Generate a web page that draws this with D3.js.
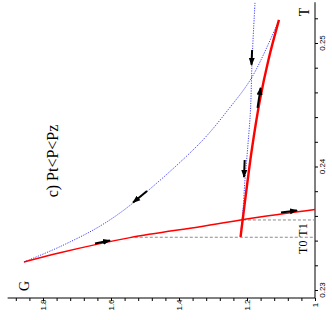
<!DOCTYPE html>
<html>
<head>
<meta charset="utf-8">
<script src="https://cdn.jsdelivr.net/npm/d3@7/dist/d3.min.js"></script>
<style>
  body { margin: 0; background: #fff; }
</style>
</head>
<body>
<div id="chart"></div>
<script>
// tick values
const gTicks = [1, 1.2, 1.4, 1.6, 1.8];
const tTicks = [0.23, 0.24, 0.25];

// red path from G (thin)
const red1G = [1.856, 1.75, 1.544, 1.338, 1.162, 1.0];
const red1T = [0.23227, 0.23302, 0.23424, 0.23513, 0.23591, 0.23652];

// red path up to T (thick)
const red2G = [1.219, 1.2126, 1.186, 1.162, 1.137, 1.106];
const red2T = [0.23429, 0.23571, 0.24134, 0.24539, 0.24863, 0.25187];

// blue dotted arc G -> T
const blue1G = [1.856, 1.75, 1.632, 1.535, 1.338, 1.256, 1.185, 1.106];
const blue1T = [0.23227, 0.23351, 0.23518, 0.23705, 0.24191, 0.24458, 0.24725, 0.25187];

// blue dotted, almost vertical
const blue2G = [1.1765, 1.185, 1.1897, 1.1985, 1.206, 1.2118, 1.2176];
const blue2T = [0.25325, 0.24863, 0.24458, 0.24134, 0.23891, 0.23648, 0.23486];

// arrows: tail and tip
const arrowTailG = [1.647, 1.1, 1.169, 1.494, 1.185, 1.2068];
const arrowTailT = [0.23377, 0.23628, 0.24474, 0.23802, 0.24944, 0.24053];
const arrowTipG = [1.603, 1.053, 1.160, 1.535, 1.1868, 1.2088];
const arrowTipT = [0.23401, 0.23644, 0.24636, 0.23709, 0.24823, 0.23915];

// temperature levels
const levelNames = ["T0", "T1"];
const levelT = [0.23427, 0.23567];
const levelStartG = [1.53, 1.212];

document.addEventListener("DOMContentLoaded", () => {

    let width = 332, height = 320;

    let svg = d3.select("#chart")
        .append("svg")
        .attr("width", width)
        .attr("height", height)
        .style("font-family", "'Liberation Serif', serif");

    // G runs right -> left, T runs bottom -> top (plot is turned)
    let x = d3.scaleLinear().domain([1, 1.8]).range([315, 43]);
    let y = d3.scaleLinear().domain([0.23, 0.25]).range([290, 43]);

    const gMin = 1.904, tMax = 0.2533;
    const axisY = 298;

    //START axes
    let bottom = svg.append("g")
        .attr("transform", `translate(0, ${axisY})`)
        .call(d3.axisBottom(x)
            .tickValues(d3.range(1, 1.9, 0.04))
            .tickSize(3)
            .tickFormat(""));
    bottom.select(".domain").remove();
    bottom.append("line")
        .attr("x1", x(gMin)).attr("x2", x(1))
        .attr("stroke", "#000");
    bottom.selectAll(".glabel")
        .data(gTicks)
        .enter()
        .append("text")
        .attr("transform", (d) => `translate(${x(d)}, 7) rotate(-90)`)
        .attr("text-anchor", "middle")
        .attr("dominant-baseline", "central")
        .attr("fill", "#000")
        .style("font-family", "'Liberation Sans', sans-serif")
        .style("font-size", "8px")
        .text((d) => d3.format("")(d));

    let right = svg.append("g")
        .attr("transform", `translate(${x(1)}, 0)`)
        .call(d3.axisRight(y)
            .tickValues(d3.range(0.23, 0.2535, 0.002))
            .tickSize(3)
            .tickFormat(""));
    right.select(".domain").remove();
    right.append("line")
        .attr("y1", axisY).attr("y2", y(tMax))
        .attr("stroke", "#000");
    right.selectAll(".tlabel")
        .data(tTicks)
        .enter()
        .append("text")
        .attr("transform", (d) => `translate(7, ${y(d)}) rotate(-90)`)
        .attr("text-anchor", "middle")
        .attr("dominant-baseline", "central")
        .attr("fill", "#000")
        .style("font-family", "'Liberation Sans', sans-serif")
        .style("font-size", "8px")
        .text((d) => d3.format(".2f")(d));
    svg.selectAll(".tick line").attr("stroke", "#000");
    //END axes

    //START dashed levels
    svg.selectAll(".level")
        .data(levelT)
        .enter()
        .append("line")
        .attr("x1", (d, i) => x(levelStartG[i]))
        .attr("x2", x(1))
        .attr("y1", (d) => y(d))
        .attr("y2", (d) => y(d))
        .attr("stroke", "#8a8a8a")
        .attr("stroke-width", 1)
        .attr("stroke-dasharray", "3,2");
    //END dashed levels

    let line = d3.line()
        .x((d) => x(d[0]))
        .y((d) => y(d[1]))
        .curve(d3.curveCatmullRom);

    const zip = (a, b) => a.map((v, i) => [v, b[i]]);

    //START curves
    svg.append("path")
        .attr("d", line(zip(blue1G, blue1T)))
        .attr("fill", "none")
        .attr("stroke", "#2b2bff")
        .attr("stroke-width", 0.9)
        .attr("stroke-dasharray", "1.2,1.3");
    svg.append("path")
        .attr("d", line(zip(blue2G, blue2T)))
        .attr("fill", "none")
        .attr("stroke", "#2b2bff")
        .attr("stroke-width", 0.9)
        .attr("stroke-dasharray", "1.2,1.3");
    svg.append("path")
        .attr("d", line(zip(red1G, red1T)))
        .attr("fill", "none")
        .attr("stroke", "#ff0000")
        .attr("stroke-width", 1.5);
    svg.append("path")
        .attr("d", line(zip(red2G, red2T)))
        .attr("fill", "none")
        .attr("stroke", "#ff0000")
        .attr("stroke-width", 2.4);
    //END curves

    //START arrows
    svg.append("defs").append("marker")
        .attr("id", "head")
        .attr("markerUnits", "userSpaceOnUse")
        .attr("viewBox", "0 -4 8 8")
        .attr("refX", 7)
        .attr("refY", 0)
        .attr("markerWidth", 8)
        .attr("markerHeight", 8)
        .attr("orient", "auto")
        .append("path")
        .attr("d", "M0,-3L8,0L0,3Z")
        .attr("fill", "#000");

    svg.selectAll(".arrow")
        .data(arrowTipG)
        .enter()
        .append("line")
        .attr("class", "arrow")
        .attr("x1", (d, i) => x(arrowTailG[i]))
        .attr("y1", (d, i) => y(arrowTailT[i]))
        .attr("x2", (d) => x(d))
        .attr("y2", (d, i) => y(arrowTipT[i]))
        .attr("stroke", "#000")
        .attr("stroke-width", 2)
        .attr("marker-end", "url(#head)");
    //END arrows

    //START labels
    svg.append("text")
        .attr("transform", `translate(24, 286) rotate(-90)`)
        .attr("text-anchor", "middle")
        .attr("dominant-baseline", "central")
        .style("font-size", "14px")
        .text("G");
    svg.append("text")
        .attr("transform", `translate(304, 12) rotate(-90)`)
        .attr("text-anchor", "middle")
        .attr("dominant-baseline", "central")
        .style("font-size", "14px")
        .text("T");
    svg.selectAll(".lvl")
        .data(levelNames)
        .enter()
        .append("text")
        .attr("transform", (d, i) => `translate(302.5, ${y(levelT[i]) + 10}) rotate(-90)`)
        .attr("text-anchor", "middle")
        .attr("dominant-baseline", "central")
        .style("font-size", "12px")
        .text((d) => d);
    svg.append("text")
        .attr("transform", `translate(52, 161) rotate(-90)`)
        .attr("text-anchor", "middle")
        .attr("dominant-baseline", "central")
        .style("font-size", "16px")
        .text("c) Pt<P<Pz");
    //END labels
})
</script>
</body>
</html>
